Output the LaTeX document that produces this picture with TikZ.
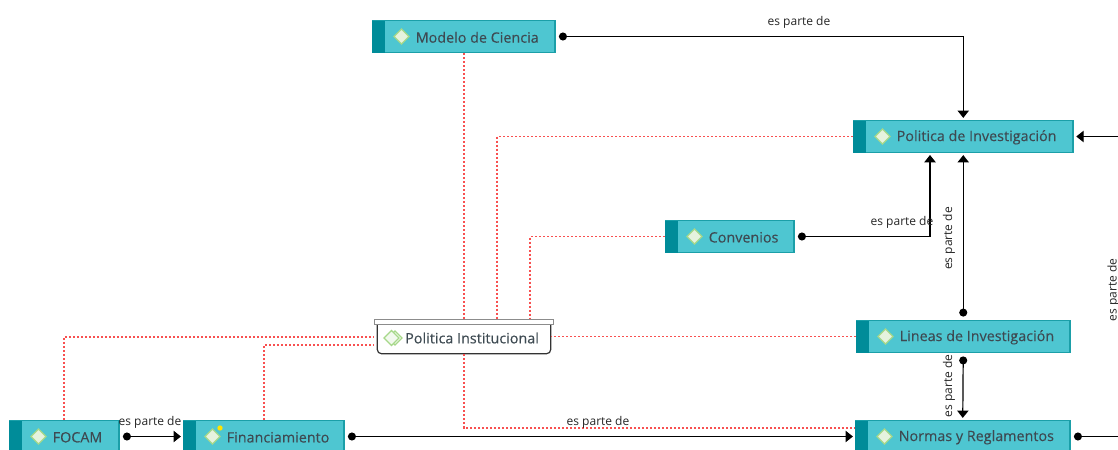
\documentclass[tikz,border=0pt]{standalone}
\usepackage{fontspec}
\setmainfont{Open Sans}
\newfontfamily\titlefont[FakeBold=0.25,LetterSpace=0.3]{Open Sans}
\usetikzlibrary{arrows.meta,shapes.geometric,calc}
\definecolor{boxfill}{HTML}{4EC6D1}
\definecolor{boxline}{HTML}{1B9FA8}
\definecolor{boxbar}{HTML}{008C99}
\definecolor{txt}{HTML}{3E4A52}
\definecolor{redline}{HTML}{F85050}
\definecolor{diafill}{HTML}{E6F3DE}
\definecolor{dialine}{HTML}{A6D889}
\tikzset{
  box/.style={draw=boxline,fill=boxfill,line width=0.9pt,inner sep=0pt,minimum height=24pt},
  bar/.style={fill=boxbar,inner sep=0pt,minimum height=24pt,minimum width=9.5pt},
  dia/.style={diamond,draw=dialine,fill=diafill,line width=0.9pt,inner sep=0pt,minimum width=11.5pt,minimum height=11.5pt},
  title/.style={text=txt,font=\titlefont\fontsize{10.7pt}{12pt}\selectfont,inner sep=0pt,anchor=west},
  lab/.style={text=black!85,font=\fontsize{9pt}{10pt}\selectfont,inner sep=0pt},
  rel/.style={draw=black,line width=0.9pt,{Circle[length=6pt,width=6pt]}-{Triangle[length=5.5pt,width=8.5pt]},shorten <=2.5pt,shorten >=1.5pt},
  relend/.style={draw=black,line width=0.9pt,{Circle[length=6pt,width=6pt]}-,shorten <=2.5pt},
  relin/.style={draw=black,line width=0.9pt,-{Triangle[length=5.5pt,width=8.5pt]},shorten >=2pt},
  assoc/.style={draw=redline,line width=1pt,dash pattern=on 1.5pt off 1.5pt},
}
% name, x0, x1, yc, text
\newcommand{\topicbox}[5]{%
  \node[box,minimum width={(#3-#2)*0.75pt}] (#1) at ({(#2+#3)/2},#4) {};
  \node[bar,anchor=west] (#1bar) at (#1.west) {};
  \node[dia] (#1dia) at ({#2+29},#4) {};
  \node[title] (#1txt) at ({#2+43},{#4+0.8}) {#5};
}
\begin{document}
\begin{tikzpicture}[x=0.75pt,y=-0.75pt]
\useasboundingbox (0,0) rectangle (1118,450);
\clip (0,0) rectangle (1118,450);
\fill[white] (0,0) rectangle (1118,450);
\topicbox{modelo}{372.5}{555}{36.5}{Modelo de Ciencia}
\topicbox{polinv}{853.5}{1073}{136.5}{Politica de Investigación}
\topicbox{conv}{665.5}{794}{236.5}{Convenios}
\topicbox{lineas}{856.5}{1070}{336.5}{Lineas de Investigación}
\topicbox{normas}{855.5}{1070}{436.5}{Normas y Reglamentos}
\topicbox{focam}{9.5}{119}{436.5}{FOCAM}
\topicbox{fin}{183.5}{344}{436.5}{Financiamiento}
\node[circle,fill=yellow!85!orange,inner sep=0pt,minimum size=4pt] (findot) at (220,428) {};
% central topic
\node[draw=black!80,fill=white,line width=0.9pt,rounded corners=3pt,inner sep=0pt,minimum width=130pt,minimum height=25pt] (pinst) at (464,337) {};
\node[draw=black!45,fill=white,line width=0.9pt,inner sep=0pt,minimum width=134pt,minimum height=4pt] (pinsttop) at (464,322) {};
\node[diamond,draw=dialine,fill=white,line width=0.9pt,inner sep=0pt,minimum width=11pt,minimum height=11pt] (pinstdb) at (395,338) {};
\node[dia,fill=diafill!50!white] (pinstda) at (391.5,338) {};
\node[title] (pinsttxt) at (405,338) {Politica Institucional};
% free ends
\coordinate (polbelow) at (930,153);
\coordinate (rightin) at (1118,136.5);
\coordinate (rightout) at (1118,436.5);
\coordinate (normin) at (855,428);
% associations
\draw[assoc] (464,53) -- (464,319);
\draw[assoc] (polinv.west) -| (497,319);
\draw[assoc] (conv.west) -| (530,319);
\draw[assoc] (lineas.west) -- (lineas.west -| pinst.east);
\draw[assoc] (focam.north -| 64,0) |- (pinsttop.west |- 0,337);
\draw[assoc] (264,420) |- (pinsttop.west |- 0,345);
\draw[assoc] (pinst.south) |- (normin);
% relations
\draw[rel] (modelo.east) -| (polinv.north);
\draw[rel] (conv.east) -| (polbelow);
\draw[rel] (lineas.north) -- (polinv.south);
\draw[rel] (lineas.south) -- (normas.north);
\draw[rel] (focam.east) -- (fin.west);
\draw[rel] (fin.east) -- (normas.west);
\draw[relend] (normas.east) -- (rightout);
\draw[relin] (rightin) -- (polinv.east);
% labels
\node[lab] (l1) at (799,22.5) {es parte de};
\node[lab] (l2) at (902,222.5) {es parte de};
\node[lab,rotate=90] (l3) at (949,238.5) {es parte de};
\node[lab,rotate=90] (l4) at (949,386) {es parte de};
\node[lab] (l5) at (150,422.5) {es parte de};
\node[lab] (l6) at (598,422.5) {es parte de};
\node[lab,rotate=90] (l7) at (1113.5,290) {es parte de};
\end{tikzpicture}
\end{document}
